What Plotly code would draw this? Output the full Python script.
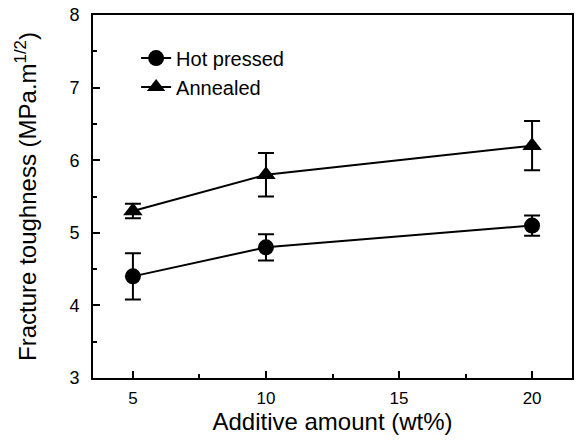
import plotly.graph_objects as go

additive = [5, 10, 20]
hot_pressed = [4.4, 4.8, 5.1]
hot_pressed_err = [0.32, 0.18, 0.14]
annealed = [5.3, 5.8, 6.2]
annealed_err = [0.1, 0.3, 0.34]

font = "Liberation Sans, Arial, sans-serif"

fig = go.Figure()
fig.add_trace(go.Scatter(
    x=additive, y=hot_pressed, name="Hot pressed", mode="lines+markers",
    line=dict(color="black", width=2),
    marker=dict(symbol="circle", size=16, color="black"),
    error_y=dict(type="data", array=hot_pressed_err, color="black", thickness=2, width=8),
))
fig.add_trace(go.Scatter(
    x=additive, y=annealed, name="Annealed", mode="lines+markers",
    line=dict(color="black", width=2),
    marker=dict(symbol="triangle-up", size=17, color="black"),
    error_y=dict(type="data", array=annealed_err, color="black", thickness=2, width=8),
))

fig.update_layout(
    width=576, height=441,
    margin=dict(l=93, r=4, t=15, b=63),
    plot_bgcolor="white", paper_bgcolor="white",
    font=dict(family=font, size=16, color="black"),
    showlegend=True,
    legend=dict(x=0.09, y=0.935, xanchor="left", yanchor="top",
                bgcolor="rgba(0,0,0,0)", font=dict(size=20), tracegroupgap=0,
                itemwidth=30),
)
fig.update_xaxes(
    range=[3.5, 21.5], tickvals=[5, 10, 15, 20], ticks="inside", ticklen=7,
    tickwidth=2, tickcolor="black", showline=True, linecolor="black", linewidth=2,
    mirror=True, showgrid=False, zeroline=False, automargin=False,
    minor=dict(tickvals=[7.5, 12.5, 17.5], ticks="inside", ticklen=4, tickwidth=2, tickcolor="black"),
    title=dict(text="Additive amount (wt%)", font=dict(size=24), standoff=6),
    tickfont=dict(size=17), ticklabelstandoff=4,
)
fig.update_yaxes(
    range=[3, 8], tickvals=[3, 4, 5, 6, 7, 8], ticks="inside", ticklen=7,
    tickwidth=2, tickcolor="black", showline=True, linecolor="black", linewidth=2,
    mirror=True, showgrid=False, zeroline=False, automargin=False,
    minor=dict(tickvals=[3.5, 4.5, 5.5, 6.5, 7.5], ticks="inside", ticklen=4, tickwidth=2, tickcolor="black"),
    title=dict(text="Fracture toughness (MPa.m<sup>1/2</sup>)", font=dict(size=24), standoff=26),
    tickfont=dict(size=18), ticklabelstandoff=8,
)

# remove the page's default 8px body margin so the figure fills the window
fig.write_html("out.html", config={"displayModeBar": False},
               post_script="document.body.style.margin='0';")
